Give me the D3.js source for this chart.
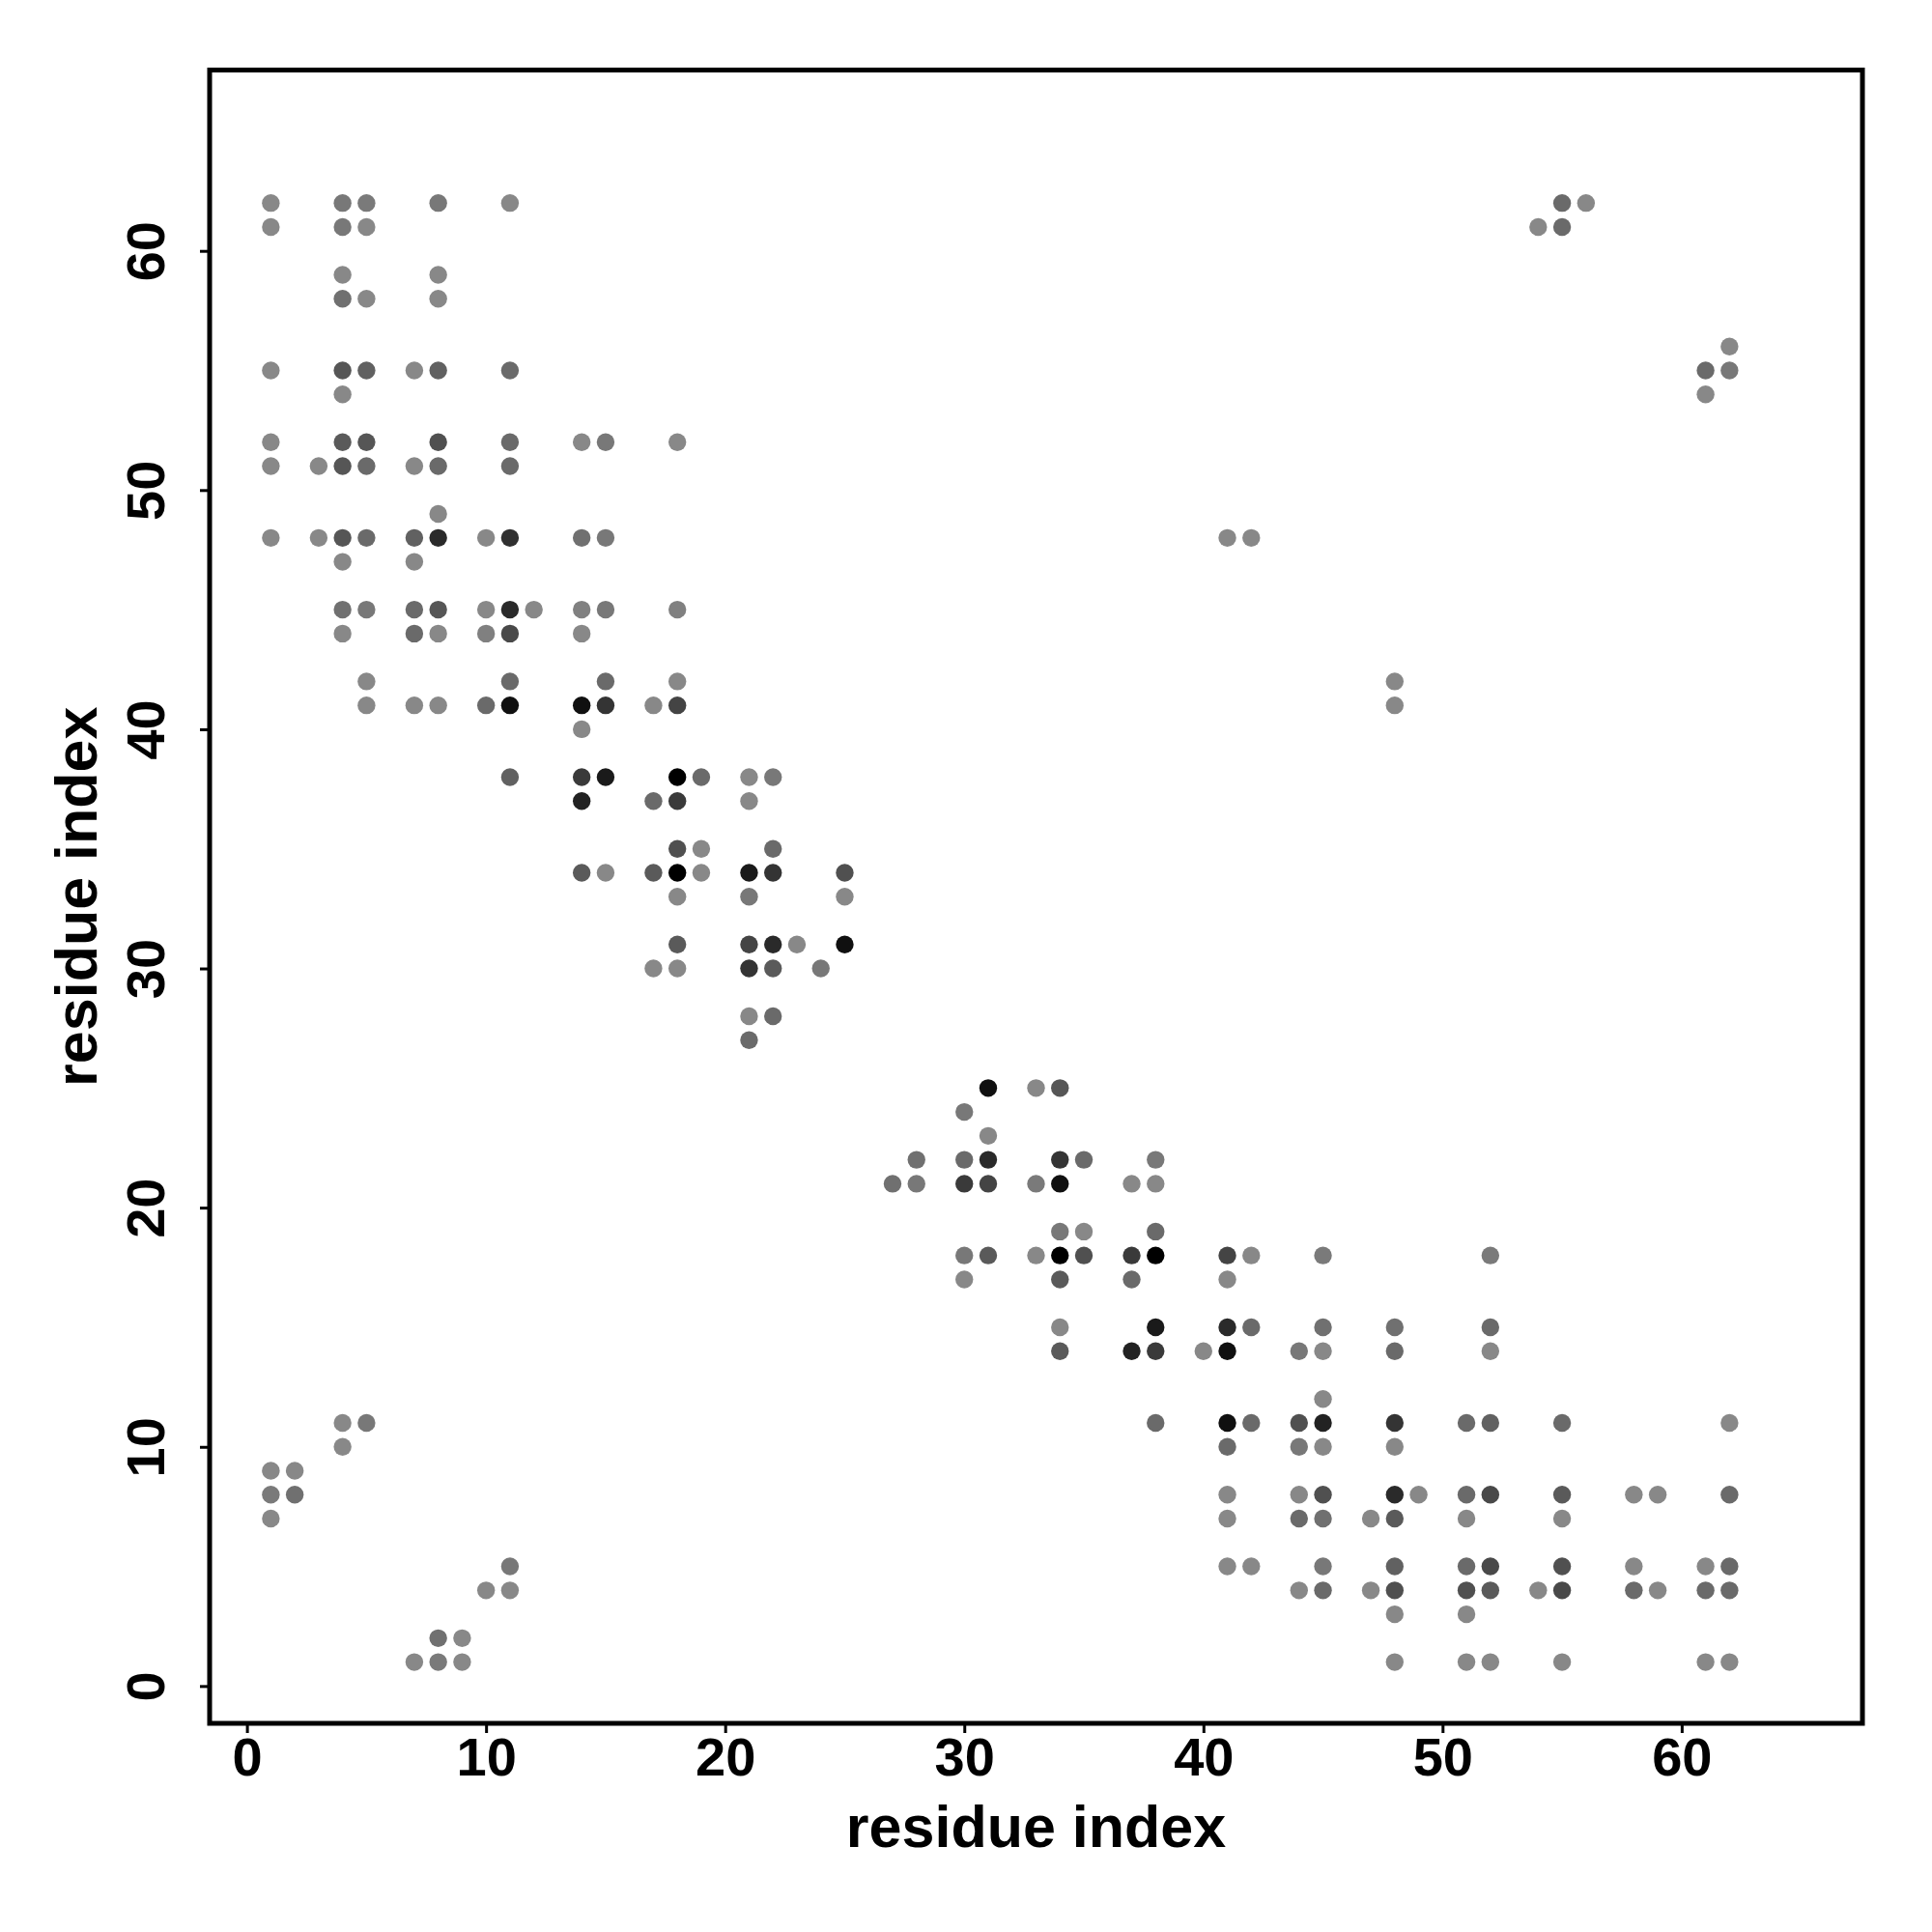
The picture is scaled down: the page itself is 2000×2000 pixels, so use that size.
<!DOCTYPE html>
<html>
<head>
<meta charset="utf-8">
<script src="https://cdn.jsdelivr.net/npm/d3@7"></script>
<style>
  body { margin: 0; background: #ffffff; }
  text { font-family: "Liberation Sans", Arial, Helvetica, sans-serif; font-weight: bold; }
</style>
</head>
<body>
<svg id="chart" width="2000" height="2000"></svg>
<script>
// ---- data: contact map (row residue j, partner residues i, contact strength 0..1) ----
const rowJ = [62, 61, 59, 58, 56, 55, 54, 52, 51, 49, 48, 47, 45, 44, 42, 41, 40, 38, 37, 35, 34, 33, 31, 30, 28, 27,
              25, 24, 23, 22, 21, 19, 18, 17, 15, 14, 12, 11, 10, 9, 8, 7, 5, 4, 3, 2, 1];
const rowI = [
  [1, 4, 5, 8, 11, 55, 56],
  [1, 4, 5, 54, 55],
  [4, 8],
  [4, 5, 8],
  [62],
  [1, 4, 5, 7, 8, 11, 61, 62],
  [4, 61],
  [1, 4, 5, 8, 11, 14, 15, 18],
  [1, 3, 4, 5, 7, 8, 11],
  [8],
  [1, 3, 4, 5, 7, 8, 10, 11, 14, 15, 41, 42],
  [4, 7],
  [4, 5, 7, 8, 10, 11, 12, 14, 15, 18],
  [4, 7, 8, 10, 11, 14],
  [5, 11, 15, 18, 48],
  [5, 7, 8, 10, 11, 14, 15, 17, 18, 48],
  [14],
  [11, 14, 15, 18, 19, 21, 22],
  [14, 17, 18, 21],
  [18, 19, 22],
  [14, 15, 17, 18, 19, 21, 22, 25],
  [18, 21, 25],
  [18, 21, 22, 23, 25],
  [17, 18, 21, 22, 24],
  [21, 22],
  [21],
  [31, 33, 34],
  [30],
  [31],
  [28, 30, 31, 34, 35, 38],
  [27, 28, 30, 31, 33, 34, 37, 38],
  [34, 35, 38],
  [30, 31, 33, 34, 35, 37, 38, 41, 42, 45, 52],
  [30, 34, 37, 41],
  [34, 38, 41, 42, 45, 48, 52],
  [34, 37, 38, 40, 41, 44, 45, 48, 52],
  [45],
  [4, 5, 38, 41, 42, 44, 45, 48, 51, 52, 55, 62],
  [4, 41, 44, 45, 48],
  [1, 2],
  [1, 2, 41, 44, 45, 48, 49, 51, 52, 55, 58, 59, 62],
  [1, 41, 44, 45, 47, 48, 51, 55],
  [11, 41, 42, 45, 48, 51, 52, 55, 58, 61, 62],
  [10, 11, 44, 45, 47, 48, 51, 52, 54, 55, 58, 59, 61, 62],
  [48, 51],
  [8, 9],
  [7, 8, 9, 48, 51, 52, 55, 61, 62]
];
const rowStrength = [
  [0, .12, .10, .12, 0, .22, 0],
  [0, .12, 0, 0, .22],
  [0, 0],
  [.18, 0, 0],
  [0],
  [0, .37, .29, 0, .29, .22, .22, .12],
  [0, 0],
  [0, .34, .37, .41, .22, 0, .12, 0],
  [0, 0, .37, .22, 0, .22, .22],
  [0],
  [0, 0, .37, .22, .29, .69, 0, .65, .18, .12, 0, 0],
  [0, 0],
  [.18, .12, .22, .37, 0, .69, 0, .06, .12, .06],
  [0, .22, 0, .06, .46, 0],
  [0, .22, .22, 0, 0],
  [0, 0, 0, .22, .88, .88, .62, 0, .50, 0],
  [0],
  [.29, .57, .81, 1, .22, 0, .12],
  [.75, .22, .57, 0],
  [.41, 0, .22],
  [.34, 0, .34, 1, 0, .81, .62, .41],
  [0, .12, 0],
  [.34, .50, .69, 0, .88],
  [0, 0, .62, .34, .12],
  [0, .22],
  [.22],
  [.88, 0, .37],
  [.12],
  [0],
  [.18, .22, .69, .62, .22, .12],
  [.18, .12, .57, .50, .10, .88, 0, 0],
  [.12, 0, .22],
  [.12, .34, 0, 1, .41, .57, 1, .50, 0, .10, .10],
  [0, .34, .22, 0],
  [0, .81, .69, .22, .18, .18, .22],
  [.34, .75, .57, 0, .88, .12, 0, .22, 0],
  [0],
  [0, .12, .22, .88, .22, .41, .75, .62, .22, .29, .22, 0],
  [0, .22, .12, 0, 0],
  [0, 0],
  [.10, .18, 0, 0, .41, .69, 0, .22, .46, .34, 0, 0, .22],
  [0, 0, .22, .18, 0, .34, 0, 0],
  [.12, 0, 0, .12, .29, .22, .46, .41, 0, 0, .22],
  [0, 0, 0, .22, 0, .41, .41, .34, 0, .46, .22, 0, .22, .22],
  [0, 0],
  [.18, 0],
  [0, .10, 0, 0, 0, 0, 0, 0, 0]
];
const xTicks = [0, 10, 20, 30, 40, 50, 60];
const yTicks = [0, 10, 20, 30, 40, 50, 60];
const xTitle = "residue index";
const yTitle = "residue index";
const axisDomain = [-1.56, 67.56];

// ---- build points ----
const points = [];
rowJ.forEach((j, r) => {
  rowI[r].forEach((i, k) => points.push({ i: i, j: j, s: rowStrength[r][k] }));
});

// ---- layout ----
const svg = d3.select("#chart");
const box = { left: 217, right: 1928, top: 72.5, bottom: 1784 };

const x = d3.scaleLinear().domain(axisDomain).range([box.left, box.right]);
const y = d3.scaleLinear().domain(axisDomain).range([box.bottom, box.top]);
const shade = d3.scaleLinear().domain([0, 1]).range(["#888888", "#000000"]);

svg.append("rect").attr("x", 0).attr("y", 0).attr("width", 2000).attr("height", 2000).attr("fill", "#ffffff");

// points
svg.append("g").selectAll("circle")
  .data(points)
  .join("circle")
  .attr("cx", d => x(d.i))
  .attr("cy", d => y(d.j))
  .attr("r", 9.2)
  .attr("fill", d => shade(d.s));

// x axis
const gx = svg.append("g")
  .attr("transform", `translate(0,${box.bottom})`)
  .call(d3.axisBottom(x).tickValues(xTicks).tickSize(10).tickFormat(d3.format("d")));
gx.select(".domain").remove();
gx.selectAll(".tick line").attr("stroke", "#000").attr("stroke-width", 3);
gx.selectAll(".tick text")
  .attr("y", 54).attr("dy", 0)
  .attr("fill", "#000")
  .style("font-size", "56px")
  .style("font-family", "'Liberation Sans', Arial, sans-serif")
  .style("font-weight", "bold");

// y axis
const gy = svg.append("g")
  .attr("transform", `translate(${box.left},0)`)
  .call(d3.axisLeft(y).tickValues(yTicks).tickSize(10).tickFormat(d3.format("d")));
gy.select(".domain").remove();
gy.selectAll(".tick line").attr("stroke", "#000").attr("stroke-width", 3);
gy.selectAll(".tick text")
  .attr("x", 0).attr("y", -47).attr("dy", 0)
  .attr("transform", "rotate(-90)")
  .attr("text-anchor", "middle")
  .attr("fill", "#000")
  .style("font-size", "56px")
  .style("font-family", "'Liberation Sans', Arial, sans-serif")
  .style("font-weight", "bold");

// frame
svg.append("rect")
  .attr("x", box.left).attr("y", box.top)
  .attr("width", box.right - box.left).attr("height", box.bottom - box.top)
  .attr("fill", "none").attr("stroke", "#000").attr("stroke-width", 5);

// axis titles
svg.append("text")
  .attr("x", (box.left + box.right) / 2).attr("y", 1912)
  .attr("text-anchor", "middle")
  .style("font-size", "61px")
  .text(xTitle);

svg.append("text")
  .attr("transform", `translate(100,${(box.top + box.bottom) / 2}) rotate(-90)`)
  .attr("text-anchor", "middle")
  .style("font-size", "61px")
  .text(yTitle);
</script>
</body>
</html>
